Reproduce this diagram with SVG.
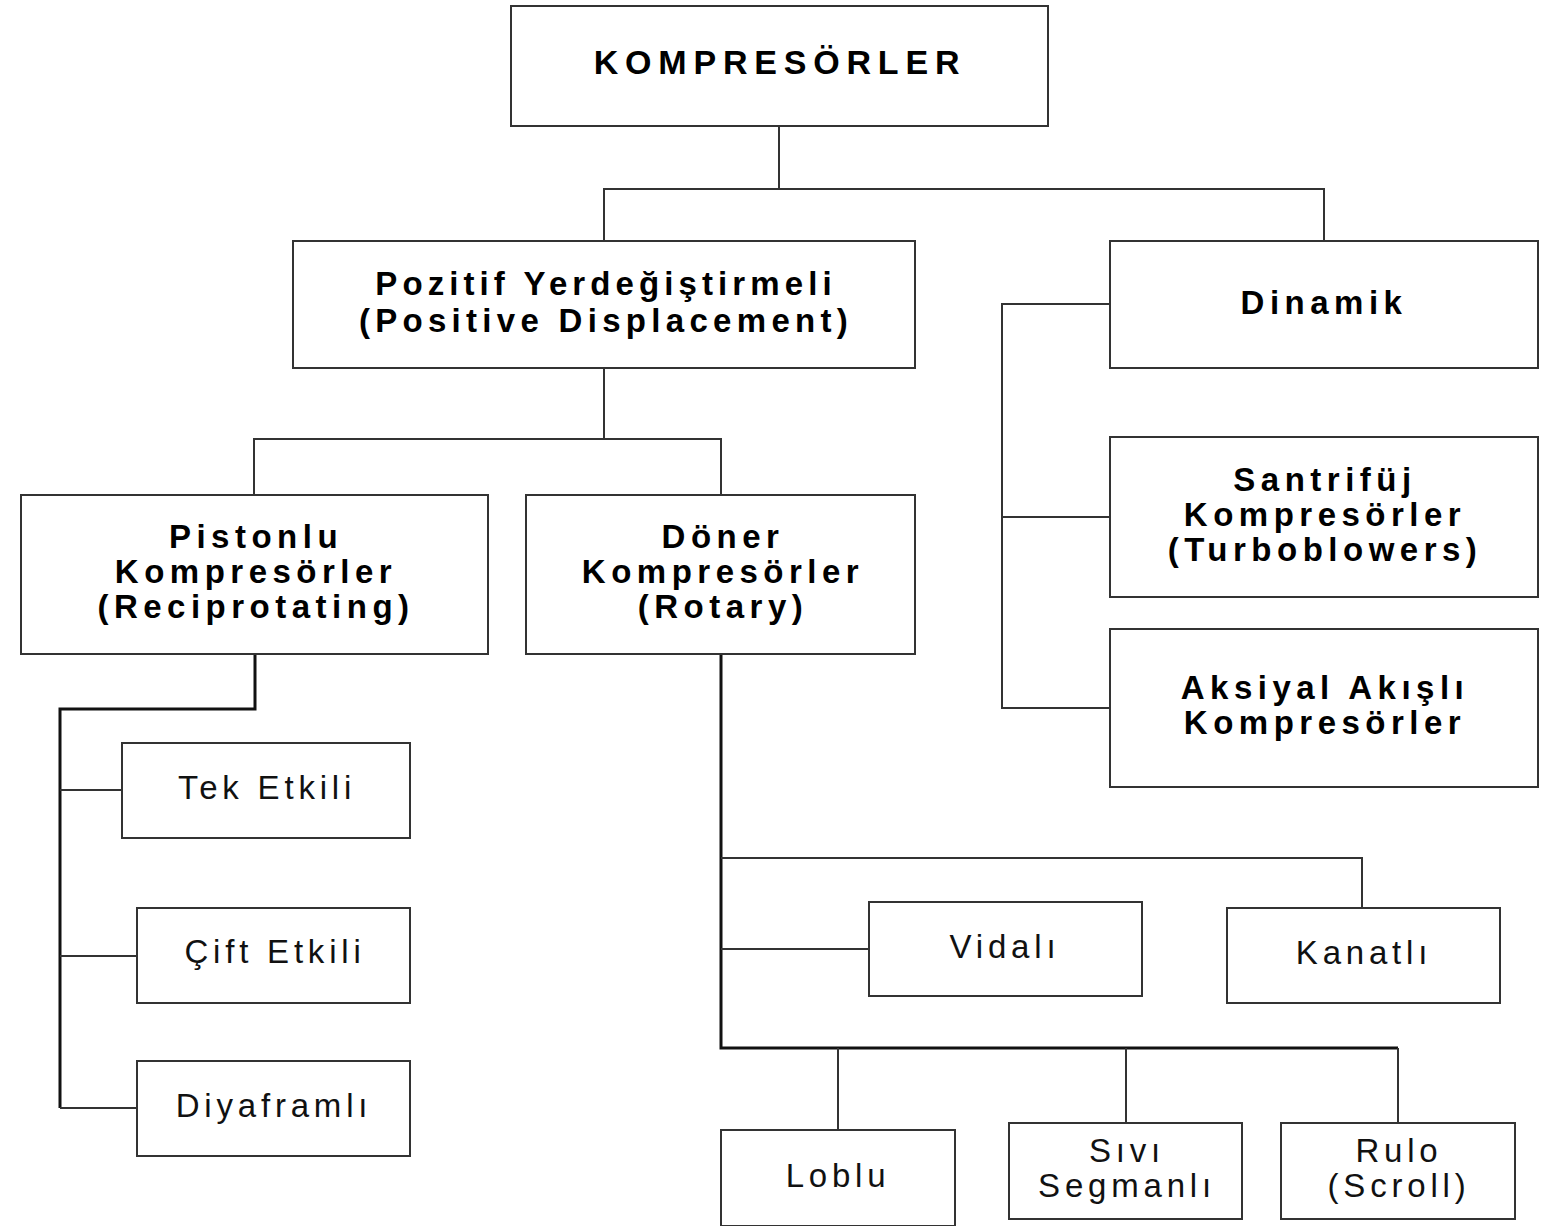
<svg xmlns="http://www.w3.org/2000/svg" width="1556" height="1226" viewBox="0 0 1556 1226">
<style>
.box{fill:#fff;stroke:#333;stroke-width:2}
.ln{fill:none;stroke:#333;stroke-width:2}
.thick{fill:none;stroke:#111;stroke-width:3}
.b{font-family:"Liberation Sans",Arial,sans-serif;font-weight:bold;font-size:33px;letter-spacing:5.5px;text-anchor:middle;fill:#000}
.t{font-family:"Liberation Sans",Arial,sans-serif;font-size:33px;letter-spacing:4.8px;text-anchor:middle;fill:#111}
</style>
<rect width="1556" height="1226" fill="#fff"/>
<g id="connectors">
<polyline class="ln" points="779,126 779,189"/>
<polyline class="ln" points="604,241 604,189 1324,189 1324,241"/>
<polyline class="ln" points="604,368 604,439"/>
<polyline class="ln" points="254,495 254,439 721,439 721,495"/>
<polyline class="thick" points="255,654 255,709 60,709 60,1108"/>
<line class="ln" x1="60" y1="790" x2="122" y2="790"/>
<line class="ln" x1="60" y1="956" x2="137" y2="956"/>
<line class="ln" x1="60" y1="1108" x2="137" y2="1108"/>
<polyline class="ln" points="1110,304 1002,304 1002,708 1110,708"/>
<line class="ln" x1="1002" y1="517" x2="1110" y2="517"/>
<polyline class="thick" points="721,654 721,1048 1398,1048"/>
<line class="ln" x1="1398" y1="1048" x2="1398" y2="1123"/>
<polyline class="ln" points="721,858 1362,858 1362,908"/>
<line class="ln" x1="721" y1="949" x2="869" y2="949"/>
<line class="ln" x1="838" y1="1048" x2="838" y2="1130"/>
<line class="ln" x1="1126" y1="1048" x2="1126" y2="1123"/>
</g>
<g id="kompresorler">
<rect class="box" x="511" y="6" width="537" height="120"/>
<text class="b" x="780" y="74" style="font-size:34px;letter-spacing:6.8px">KOMPRESÖRLER</text>
</g>
<g id="pozitif">
<rect class="box" x="293" y="241" width="622" height="127"/>
<text class="b" x="606" y="295" style="letter-spacing:5.1px">Pozitif Yerdeğiştirmeli</text>
<text class="b" x="606" y="332" style="letter-spacing:5.3px">(Positive Displacement)</text>
</g>
<g id="dinamik">
<rect class="box" x="1110" y="241" width="428" height="127"/>
<text class="b" x="1324" y="314">Dinamik</text>
</g>
<g id="santrifuj">
<rect class="box" x="1110" y="437" width="428" height="160"/>
<text class="b" x="1325" y="491">Santrifüj</text>
<text class="b" x="1325" y="526">Kompresörler</text>
<text class="b" x="1325" y="561">(Turboblowers)</text>
</g>
<g id="aksiyal">
<rect class="box" x="1110" y="629" width="428" height="158"/>
<text class="b" x="1325" y="699">Aksiyal Akışlı</text>
<text class="b" x="1325" y="734">Kompresörler</text>
</g>
<g id="pistonlu">
<rect class="box" x="21" y="495" width="467" height="159"/>
<text class="b" x="256" y="548">Pistonlu</text>
<text class="b" x="256" y="583">Kompresörler</text>
<text class="b" x="256" y="618">(Reciprotating)</text>
</g>
<g id="doner">
<rect class="box" x="526" y="495" width="389" height="159"/>
<text class="b" x="723" y="548">Döner</text>
<text class="b" x="723" y="583">Kompresörler</text>
<text class="b" x="723" y="618">(Rotary)</text>
</g>
<g id="tek">
<rect class="box" x="122" y="743" width="288" height="95"/>
<text class="t" x="267" y="799">Tek Etkili</text>
</g>
<g id="cift">
<rect class="box" x="137" y="908" width="273" height="95"/>
<text class="t" x="275" y="963">Çift Etkili</text>
</g>
<g id="diyafram">
<rect class="box" x="137" y="1061" width="273" height="95"/>
<text class="t" x="274" y="1117">Diyaframlı</text>
</g>
<g id="vidali">
<rect class="box" x="869" y="902" width="273" height="94"/>
<text class="t" x="1005" y="958">Vidalı</text>
</g>
<g id="kanatli">
<rect class="box" x="1227" y="908" width="273" height="95"/>
<text class="t" x="1364" y="964">Kanatlı</text>
</g>
<g id="loblu">
<rect class="box" x="721" y="1130" width="234" height="96"/>
<text class="t" x="838" y="1187">Loblu</text>
</g>
<g id="sivi">
<rect class="box" x="1009" y="1123" width="233" height="96"/>
<text class="t" x="1127" y="1162">Sıvı</text>
<text class="t" x="1127" y="1197">Segmanlı</text>
</g>
<g id="rulo">
<rect class="box" x="1281" y="1123" width="234" height="96"/>
<text class="t" x="1399" y="1162">Rulo</text>
<text class="t" x="1399" y="1197">(Scroll)</text>
</g>
</svg>
